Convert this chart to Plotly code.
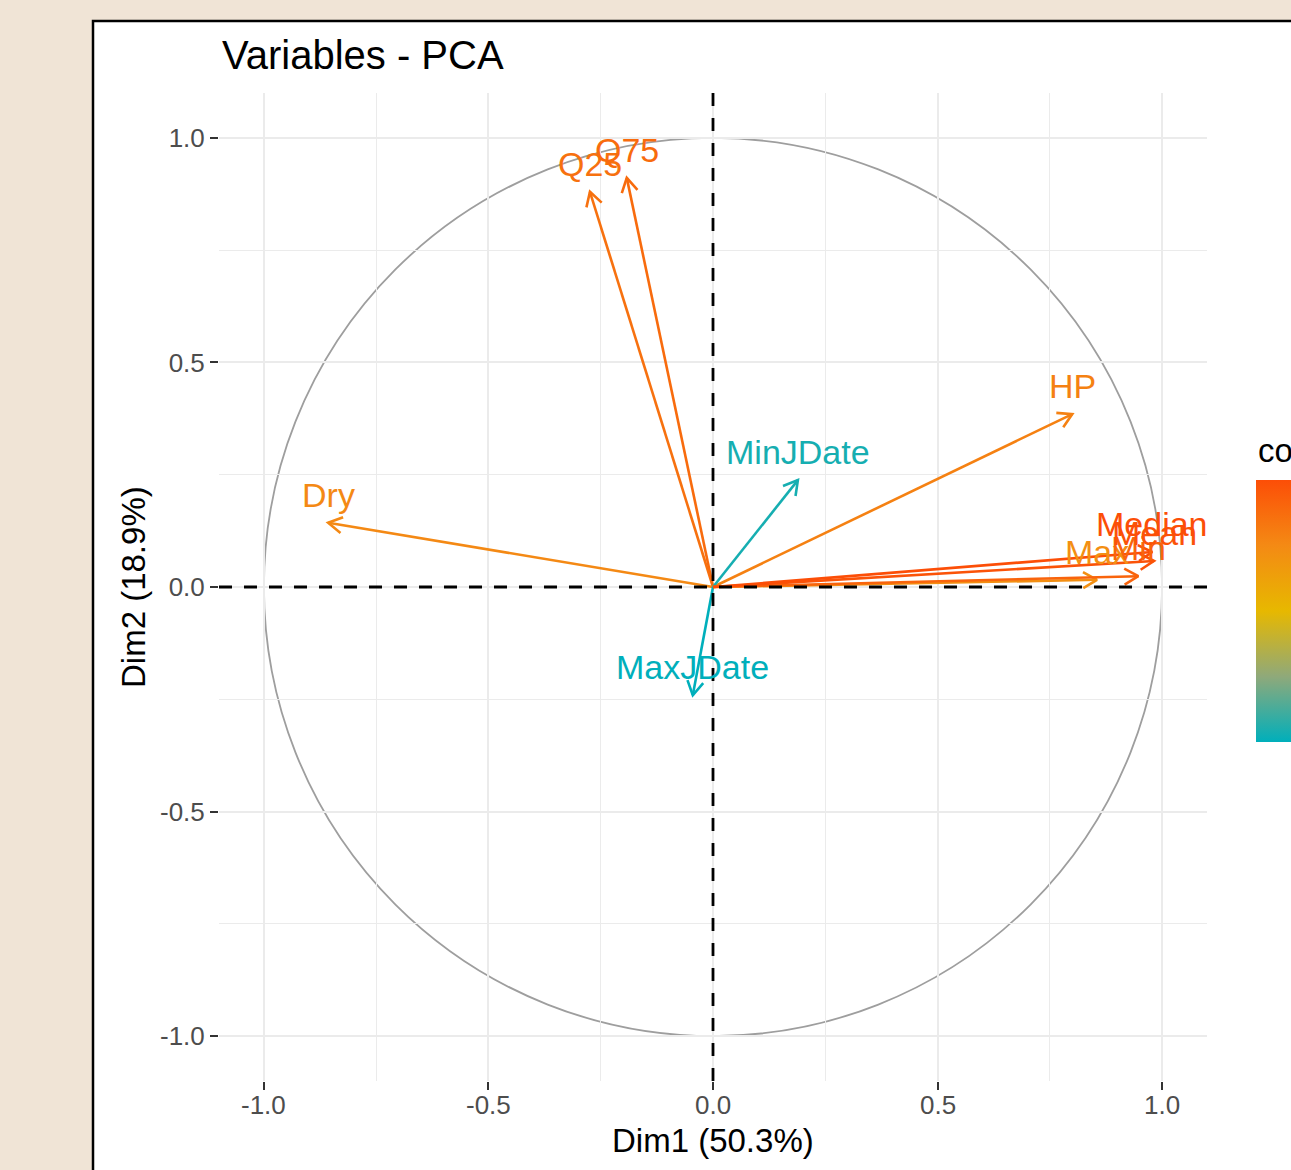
import numpy as np
import plotly.graph_objects as go
from plotly.colors import sample_colorscale

# ---- data ----
variables = ["Q25", "Q75", "Dry", "HP", "MinJDate", "MaxJDate",
             "Max", "Min", "Mean", "Median"]
dim1 = [-0.274, -0.192, -0.857, 0.800, 0.189, -0.045, 0.855, 0.947, 0.982, 0.978]
dim2 = [0.880, 0.911, 0.143, 0.385, 0.238, -0.241, 0.016, 0.024, 0.058, 0.078]
contrib = [12.0, 12.3, 10.7, 11.1, 1.3, 0.8, 10.3, 12.7, 13.6, 13.9]
axis_ticks = [-1.0, -0.5, 0.0, 0.5, 1.0]
axis_ticktext = ["-1.0", "-0.5", "0.0", "0.5", "1.0"]
minor_ticks = [-0.75, -0.25, 0.25, 0.75]
cbar_ticks = [5, 10]
title_text = "Variables - PCA"
xlab = "Dim1 (50.3%)"
ylab = "Dim2 (18.9%)"
legend_title = "contrib"

FONT = "Liberation Sans, Arial, Helvetica, sans-serif"
colorscale = [[0.0, "#00AFBB"], [0.25, "#8FA97A"], [0.5, "#E7B800"],
              [0.75, "#F48A14"], [1.0, "#FC4E07"]]
cmin, cmax = 0.8, 13.9

W, H = 1291, 1170
L, R, T, B = 219, 84, 93, 89
plot_w = W - L - R
plot_h = H - T - B
xr = [-1.1, 1.1]
yr = [-1.1, 1.1]
px_per_unit = plot_w / (xr[1] - xr[0])

fig = go.Figure()

# arrows
head_len = 16 / px_per_unit
head_ang = np.deg2rad(30)
for name, x, y, c in zip(variables, dim1, dim2, contrib):
    t = (c - cmin) / (cmax - cmin)
    col = sample_colorscale(colorscale, [min(max(t, 0), 1)])[0]
    ang = np.arctan2(y, x)
    b1 = ang + np.pi - head_ang
    b2 = ang + np.pi + head_ang
    xs = [0, x, None, x + head_len * np.cos(b1), x, x + head_len * np.cos(b2)]
    ys = [0, y, None, y + head_len * np.sin(b1), y, y + head_len * np.sin(b2)]
    fig.add_trace(go.Scatter(x=xs, y=ys, mode="lines",
                             line=dict(color=col, width=2.6),
                             hoverinfo="skip", showlegend=False))
    fig.add_annotation(x=x, y=y, text=name, showarrow=False, yshift=28,
                       font=dict(family=FONT, size=34, color=col),
                       xanchor="center", yanchor="middle")

# colorbar carrier
CB_LEN = 262
CB_CENTER = 611
fig.add_trace(go.Scatter(
    x=dim1, y=dim2, mode="markers",
    marker=dict(size=0.1, color=contrib, colorscale=colorscale, cmin=cmin, cmax=cmax,
                showscale=True,
                colorbar=dict(x=(1256 - L) / plot_w, xanchor="left",
                              y=(H - B - CB_CENTER) / plot_h, yanchor="middle",
                              lenmode="pixels", len=CB_LEN, thickness=48,
                              xpad=0, ypad=0,
                              outlinewidth=0, tickvals=cbar_ticks,
                              ticks="inside", ticklen=11, tickcolor="white",
                              tickwidth=1.5, showticklabels=True,
                              tickfont=dict(family=FONT, size=26, color="#4D4D4D"))),
    hoverinfo="skip", showlegend=False))

# unit circle
fig.add_shape(type="circle", xref="x", yref="y", x0=-1, y0=-1, x1=1, y1=1,
              line=dict(color="#9E9E9E", width=1.8), layer="below")

# white panel with black border
fig.add_shape(type="rect", xref="paper", yref="paper",
              x0=(93 - L) / plot_w, x1=1.3, y0=-0.3, y1=(H - B - 21) / plot_h,
              line=dict(color="black", width=2.5), fillcolor="white", layer="below")

# dashed axis lines
fig.add_shape(type="line", xref="paper", yref="y", x0=0, x1=1, y0=0, y1=0,
              line=dict(color="black", width=2.8, dash="13px,12px"), layer="above")
fig.add_shape(type="line", xref="x", yref="paper", x0=0, x1=0, y0=0, y1=1,
              line=dict(color="black", width=2.8, dash="13px,12px"), layer="above")

# left-side white ticks on the colorbar
cb_bottom = (H - B - CB_CENTER - CB_LEN / 2) / plot_h
for v in cbar_ticks:
    yp = cb_bottom + (v - cmin) / (cmax - cmin) * CB_LEN / plot_h
    fig.add_shape(type="line", xref="paper", yref="paper",
                  x0=(1256 - L) / plot_w, x1=(1267 - L) / plot_w, y0=yp, y1=yp,
                  line=dict(color="white", width=1.5), layer="above")

# x tick labels as text (placed just under the ticks)
for v, lab in zip(axis_ticks, axis_ticktext):
    fig.add_annotation(x=v, y=0, xref="x", yref="paper", yshift=-24, text=lab,
                       showarrow=False, xanchor="center", yanchor="middle",
                       font=dict(family=FONT, size=26, color="#4D4D4D"))

# texts
fig.add_annotation(xref="paper", yref="paper", x=(220 - L) / plot_w,
                   y=(H - B - 55) / plot_h, text=title_text, showarrow=False,
                   xanchor="left", yanchor="middle",
                   font=dict(family=FONT, size=40, color="black"))
fig.add_annotation(xref="paper", yref="paper", x=0.5, y=(H - B - 1140) / plot_h,
                   text=xlab, showarrow=False, xanchor="center", yanchor="middle",
                   font=dict(family=FONT, size=33, color="black"))
fig.add_annotation(xref="paper", yref="paper", x=(133 - L) / plot_w, y=0.5,
                   text=ylab, showarrow=False, textangle=-90,
                   xanchor="center", yanchor="middle",
                   font=dict(family=FONT, size=33, color="black"))
fig.add_annotation(xref="paper", yref="paper", x=(1256 - L) / plot_w,
                   y=(H - B - 450) / plot_h, text=legend_title, showarrow=False,
                   xanchor="left", yanchor="middle",
                   font=dict(family=FONT, size=33, color="black"))

axis_common = dict(
    tickvals=axis_ticks, ticks="outside", ticklen=8,
    tickwidth=2, tickcolor="#333333", showgrid=True, gridcolor="#EBEBEB",
    gridwidth=2, zeroline=False, showline=False,
    tickfont=dict(family=FONT, size=26, color="#4D4D4D"),
    minor=dict(tickvals=minor_ticks, showgrid=True, gridcolor="#EBEBEB",
               gridwidth=1, ticks=""),
)
fig.update_xaxes(range=xr, showticklabels=False, **axis_common)
fig.update_yaxes(range=yr, ticktext=axis_ticktext, **axis_common)

fig.update_layout(
    width=W, height=H,
    margin=dict(l=L, r=R, t=T, b=B, autoexpand=False),
    paper_bgcolor="#F0E4D6", plot_bgcolor="white",
    showlegend=False,
)

fig.write_html(
    "out.html",
    config={"displayModeBar": False},
    post_script="document.body.style.margin='0';document.body.style.padding='0';"
                "document.body.style.background='#F0E4D6';"
                "document.body.style.overflow='hidden';",
)
